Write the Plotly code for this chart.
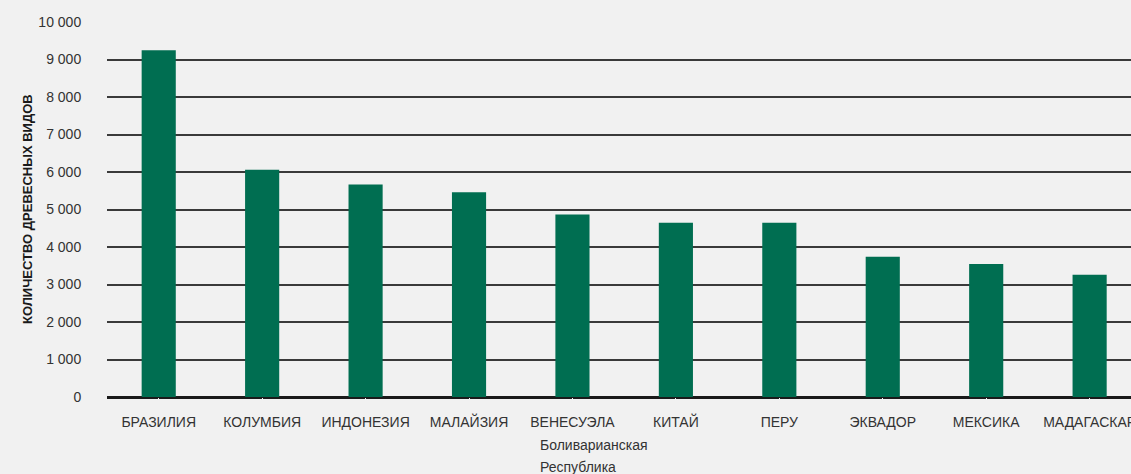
import plotly.graph_objects as go

countries = ["БРАЗИЛИЯ", "КОЛУМБИЯ", "ИНДОНЕЗИЯ", "МАЛАЙЗИЯ", "ВЕНЕСУЭЛА", "КИТАЙ",
             "ПЕРУ", "ЭКВАДОР", "МЕКСИКА", "МАДАГАСКАР"]
species = [9250, 6060, 5670, 5460, 4870, 4650, 4650, 3740, 3550, 3260]
venezuela_extra = ["Боливарианская", "Республика"]
y_ticks = [0, 1000, 2000, 3000, 4000, 5000, 6000, 7000, 8000, 9000, 10000]
y_tick_labels = ["0", "1 000", "2 000", "3 000", "4 000", "5 000", "6 000",
                 "7 000", "8 000", "9 000", "10 000"]

FONT = "Liberation Sans, Arial, sans-serif"
BG = "#f1f1f1"
TXT = "#333333"

fig = go.Figure()
fig.add_trace(go.Bar(
    x=list(range(len(countries))),
    y=species,
    marker=dict(color="#006e51", line=dict(width=0)),
    hoverinfo="skip",
))

W, H = 1131, 474
L, R, T, B = 107, 0, 22, 77

# second and third lines of the Venezuela label, left aligned like the source
for i, line in enumerate(venezuela_extra):
    fig.add_annotation(
        x=4, y=0, xref="x", yref="paper", yanchor="middle", xanchor="left",
        xshift=-34, yshift=-48 - 22 * i, text=line, showarrow=False,
        font=dict(family=FONT, size=14, color=TXT),
    )

fig.add_annotation(
    x=(18 - L) / (W - L - R), y=0.5, xref="paper", yref="paper",
    text="<b>КОЛИЧЕСТВО ДРЕВЕСНЫХ ВИДОВ</b>", textangle=-90, showarrow=False,
    font=dict(family=FONT, size=13, color="#1a1a1a"),
)

fig.update_layout(
    width=W, height=H,
    margin=dict(l=L, r=R, t=T, b=B, autoexpand=False),
    paper_bgcolor=BG, plot_bgcolor=BG,
    bargap=0.67,
    showlegend=False,
    font=dict(family=FONT, size=14, color=TXT),
    xaxis=dict(
        tickmode="array", tickvals=list(range(len(countries))), ticktext=countries,
        range=[-0.5, 9.4], showgrid=False, zeroline=False,
        showline=False, ticks="outside", ticklen=12, tickcolor=BG,
        ticklabeloverflow="allow",
        tickfont=dict(family=FONT, size=14, color=TXT),
    ),
    yaxis=dict(
        tickmode="array", tickvals=y_ticks, ticktext=y_tick_labels,
        range=[0, 10000], showgrid=True, gridcolor="#3a3a3a", gridwidth=1.5,
        zeroline=True, zerolinecolor="#1a1a1a", zerolinewidth=3,
        ticks="outside", ticklen=22, tickcolor=BG,
        tickfont=dict(family=FONT, size=14, color=TXT),
    ),
)

fig.write_html(
    "out.html",
    config={"displayModeBar": False},
    post_script="document.body.style.margin='0';document.body.style.background='#f1f1f1';",
)
